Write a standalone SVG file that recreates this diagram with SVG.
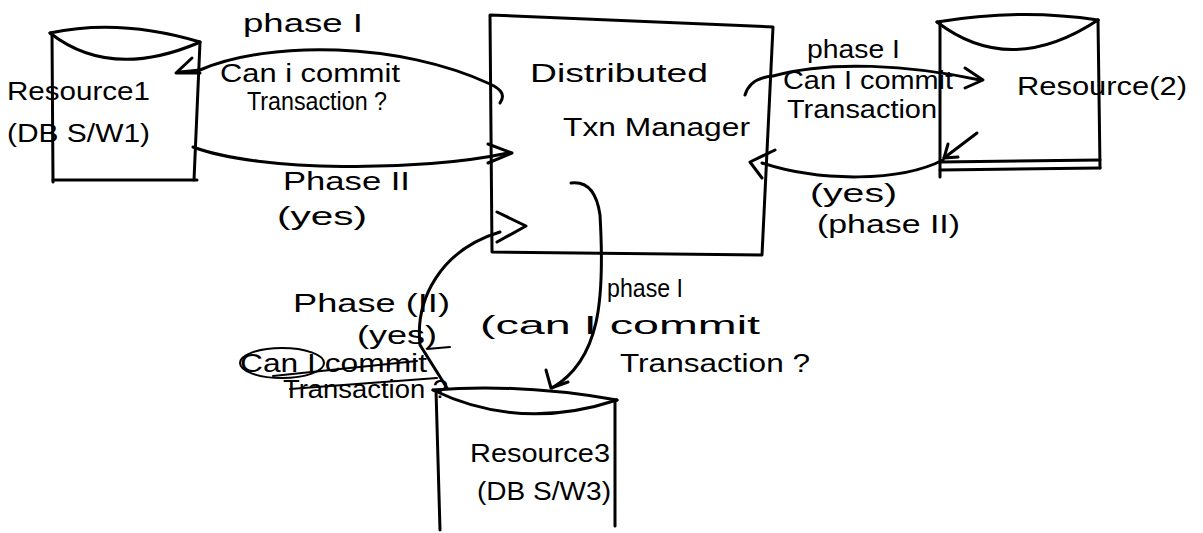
<svg xmlns="http://www.w3.org/2000/svg" width="1203" height="533" viewBox="0 0 1203 533">
<style>
.s{fill:none;stroke:#000;stroke-width:3;stroke-linecap:round;stroke-linejoin:round}
.t{font-family:"Liberation Sans",Arial,sans-serif;fill:#000;font-size:26px}
.strike{fill:none;stroke:#000;stroke-width:2;stroke-linecap:round}
</style>
<rect width="1203" height="533" fill="#fff"/>
<g id="resource1">
<path class="s" d="M50 33 Q120 18 200 42"/>
<path class="s" d="M50 33 Q110 80 198 43"/>
<path class="s" d="M52 33 L53 182"/>
<path class="s" d="M200 42 L194 180"/>
<path class="s" d="M53 180 L197 180"/>
<text class="t" x="7" y="100" font-size="28" textLength="143" lengthAdjust="spacingAndGlyphs">Resource1</text>
<text class="t" x="7" y="142" textLength="143" lengthAdjust="spacingAndGlyphs">(DB S/W1)</text>
</g>
<g id="manager">
<path class="s" d="M490 15 L773 27 L762 255 L492 252 Z"/>
<text class="t" x="530" y="82" font-size="28" textLength="178" lengthAdjust="spacingAndGlyphs">Distributed</text>
<text class="t" x="563" y="136" font-size="28" textLength="187" lengthAdjust="spacingAndGlyphs">Txn Manager</text>
</g>
<g id="resource2">
<path class="s" d="M937 22 Q1020 8 1098 20"/>
<path class="s" d="M937 22 Q1010 78 1098 20"/>
<path class="s" d="M940 22 L940 177"/>
<path class="s" d="M1098 20 L1100 168"/>
<path class="s" d="M940 162 L1100 160"/>
<path class="s" d="M940 170 L1100 168"/>
<text class="t" x="1017" y="95" font-size="28" textLength="170" lengthAdjust="spacingAndGlyphs">Resource(2)</text>
</g>
<g id="resource3">
<path class="s" d="M433 390 Q520 383 617 400"/>
<path class="s" d="M433 390 Q520 432 617 400"/>
<path class="s" d="M436 390 L440 530"/>
<path class="s" d="M615 400 L615 526"/>
<text class="t" x="470" y="462" font-size="28" textLength="140" lengthAdjust="spacingAndGlyphs">Resource3</text>
<text class="t" x="477" y="500" textLength="134" lengthAdjust="spacingAndGlyphs">(DB S/W3)</text>
</g>
<g id="connectors">
<path class="s" d="M500 103 Q508 92 490 84 C400 42 270 40 200 70 L180 72"/>
<polyline class="s" points="192,58 176,73 200,73"/>
<path class="s" d="M193 147 C260 172 420 172 508 153"/>
<polyline class="s" points="488,144 512,153 488,163"/>
<path class="s" d="M447 388 L420 345 C415 300 440 250 500 232"/>
<polyline class="s" points="497,212 526,226 497,242"/>
<path class="s" d="M571 183 Q595 180 600 215 C605 300 600 360 552 388"/>
<polyline class="s" points="546,370 551,388 568,382"/>
<path class="s" d="M745 95 Q750 78 773 76 C830 60 910 65 980 80"/>
<polyline class="s" points="965,68 983,80 965,88"/>
<path class="s" d="M943 160 C900 182 820 182 762 163"/>
<polyline class="s" points="775,150 750,162 762,178"/>
<path class="s" d="M977 133 L944 158"/>
<polyline class="s" points="948,144 944,158 958,157"/>
</g>
<g id="labels">
<text class="t" x="243" y="32" textLength="120" lengthAdjust="spacingAndGlyphs">phase I</text>
<text class="t" x="220" y="82" textLength="180" lengthAdjust="spacingAndGlyphs">Can i commit</text>
<text class="t" x="247" y="110" textLength="140" lengthAdjust="spacingAndGlyphs">Transaction ?</text>
<text class="t" x="283" y="190" font-size="28" textLength="127" lengthAdjust="spacingAndGlyphs">Phase II</text>
<text class="t" x="277" y="225" textLength="90" lengthAdjust="spacingAndGlyphs">(yes)</text>
<text class="t" x="807" y="58" font-size="22" textLength="93" lengthAdjust="spacingAndGlyphs">phase I</text>
<text class="t" x="783" y="89" font-size="22" textLength="170" lengthAdjust="spacingAndGlyphs">Can I commit</text>
<text class="t" x="787" y="118" font-size="22" textLength="150" lengthAdjust="spacingAndGlyphs">Transaction</text>
<text class="t" x="810" y="202" font-size="22" textLength="87" lengthAdjust="spacingAndGlyphs">(yes)</text>
<text class="t" x="817" y="233" font-size="22" textLength="143" lengthAdjust="spacingAndGlyphs">(phase II)</text>
<text class="t" x="607" y="297" font-size="24" textLength="76" lengthAdjust="spacingAndGlyphs">phase I</text>
<text class="t" x="480" y="334" textLength="280" lengthAdjust="spacingAndGlyphs">(can I commit</text>
<text class="t" x="620" y="372" textLength="190" lengthAdjust="spacingAndGlyphs">Transaction ?</text>
<text class="t" x="293" y="312" font-size="27" textLength="157" lengthAdjust="spacingAndGlyphs">Phase (II)</text>
<text class="t" x="357" y="344" font-size="18" textLength="80" lengthAdjust="spacingAndGlyphs">(yes)</text>
<text class="t" x="240" y="372" font-size="21" textLength="187" lengthAdjust="spacingAndGlyphs">Can I commit</text>
<text class="t" x="283" y="398" font-size="21" textLength="165" lengthAdjust="spacingAndGlyphs">Transaction ?</text>
<path class="strike" d="M273 376 L417 361 M427 349 L450 347 M290 389 L437 378"/>
<ellipse class="strike" cx="282" cy="363" rx="42" ry="15"/>
</g>
</svg>
